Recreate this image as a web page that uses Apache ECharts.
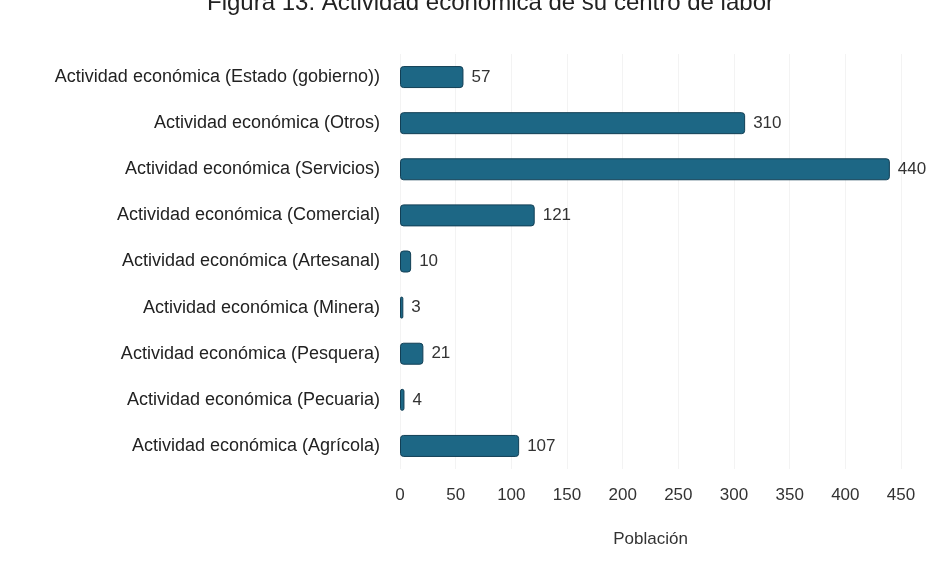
<!DOCTYPE html>
<html>
<head>
<meta charset="utf-8">
<script src="https://cdn.jsdelivr.net/npm/echarts@6/dist/echarts.min.js"></script>
<style>
  html, body { margin: 0; padding: 0; background: #fff; }
  #chart { width: 947px; height: 581px; }
</style>
</head>
<body>
<div id="chart"></div>
<script>
// datos
const categorias = [
  'Actividad económica (Estado (gobierno))',
  'Actividad económica (Otros)',
  'Actividad económica (Servicios)',
  'Actividad económica (Comercial)',
  'Actividad económica (Artesanal)',
  'Actividad económica (Minera)',
  'Actividad económica (Pesquera)',
  'Actividad económica (Pecuaria)',
  'Actividad económica (Agrícola)'
]
const poblacion = [57, 310, 440, 121, 10, 3, 21, 4, 107]
const titulo = 'Figura 13. Actividad económica de su centro de labor'

const chart = echarts.init(document.getElementById('chart'))

chart.setOption({
  backgroundColor: '#fff',
  textStyle: { fontFamily: 'Liberation Sans, Arial, sans-serif' },
  title: {
    text: titulo,
    left: 202,
    top: -14,
    textStyle: { fontSize: 24, fontWeight: 'normal', color: '#222' }
  },
  grid: { left: 400, right: 46, top: 54, bottom: 112 },
  xAxis: {
    type: 'value',
    min: 0,
    max: 450,
    interval: 50,
    name: 'Población',
    nameLocation: 'middle',
    nameGap: 62,
    nameTextStyle: { fontSize: 17, color: '#333' },
    axisLine: { show: false },
    axisTick: { show: false },
    axisLabel: { fontSize: 17, color: '#333', margin: 18 },
    splitLine: { show: true, lineStyle: { color: '#f3f3f3' } }
  },
  yAxis: {
    type: 'category',
    data: categorias,
    inverse: true,
    axisLine: { show: false },
    axisTick: { show: false },
    axisLabel: { fontSize: 18, color: '#222', margin: 20 }
  },
  series: [
    {
      type: 'bar',
      data: poblacion,
      barWidth: 22,
      itemStyle: {
        color: '#1d6785',
        borderColor: '#123f55',
        borderWidth: 1,
        borderRadius: 3
      },
      label: {
        show: true,
        position: 'right',
        distance: 8,
        fontSize: 17,
        color: '#333'
      },
      animation: false
    }
  ]
})
</script>
</body>
</html>
